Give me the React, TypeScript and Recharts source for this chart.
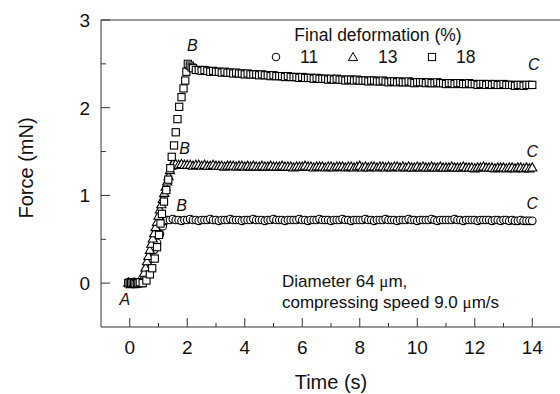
import { ScatterChart, Scatter, XAxis, YAxis, ReferenceLine, ReferenceDot } from 'recharts';

const xTicks = [0, 1, 2, 3, 4, 5, 6, 7, 8, 9, 10, 11, 12, 13, 14];
const yTicks = [0, 0.5, 1, 1.5, 2, 2.5, 3];

// before/while loading: [time (s), force (mN)]
const ramp11 = [
  [-0.05, 0], [0, 0.01], [0.05, 0], [0.1, -0.01], [0.15, 0], [0.2, 0.01], [0.25, 0], [0.3, 0], [0.35, 0.01],
  [0.45, 0.02], [0.55, 0.1], [0.65, 0.19], [0.75, 0.28], [0.85, 0.38], [0.95, 0.46], [1.05, 0.56], [1.15, 0.65], [1.22, 0.71],
];
const ramp13 = [
  [-0.05, 0.01], [0, 0], [0.05, -0.01], [0.1, 0], [0.15, 0.01], [0.2, 0], [0.25, 0], [0.3, 0.01], [0.35, 0],
  [0.4, 0.01], [0.45, 0.05], [0.5, 0.12], [0.55, 0.18], [0.6, 0.25], [0.65, 0.31], [0.7, 0.38], [0.75, 0.45],
  [0.8, 0.51], [0.85, 0.57], [0.9, 0.64], [0.95, 0.7], [1.0, 0.77], [1.05, 0.84], [1.1, 0.9], [1.15, 0.96],
  [1.2, 1.03], [1.25, 1.1], [1.3, 1.16], [1.35, 1.22], [1.4, 1.29], [1.45, 1.34],
];
const ramp18 = [
  [-0.05, 0], [0, 0.01], [0.05, 0], [0.1, 0.01], [0.15, 0], [0.2, -0.01], [0.25, 0], [0.3, 0], [0.35, 0.01],
  [0.45, 0], [0.58, 0.03], [0.7, 0.1], [0.78, 0.17], [0.87, 0.28], [0.95, 0.41], [1.02, 0.55], [1.07, 0.68],
  [1.12, 0.79], [1.19, 0.93], [1.27, 1.06], [1.34, 1.18], [1.41, 1.31], [1.46, 1.44], [1.54, 1.57], [1.6, 1.72],
  [1.66, 1.87], [1.72, 2.01], [1.8, 2.12], [1.87, 2.22], [1.93, 2.31], [1.97, 2.41], [2.02, 2.5], [2.09, 2.48], [2.15, 2.46],
];

// relaxation, one reading every 0.1 s
const start11 = 1.3;
const plateau11 = [
  0.72, 0.72, 0.73, 0.72, 0.72, 0.71, 0.72, 0.72, 0.73, 0.72,
  0.72, 0.71, 0.72, 0.72, 0.72, 0.73, 0.72, 0.72, 0.71, 0.72,
  0.72, 0.72, 0.73, 0.72, 0.72, 0.72, 0.71, 0.72, 0.72, 0.72,
  0.73, 0.72, 0.72, 0.72, 0.71, 0.72, 0.72, 0.73, 0.72, 0.72,
  0.72, 0.71, 0.72, 0.72, 0.72, 0.72, 0.73, 0.72, 0.72, 0.71,
  0.72, 0.72, 0.72, 0.73, 0.72, 0.72, 0.72, 0.71, 0.72, 0.72,
  0.72, 0.73, 0.72, 0.72, 0.71, 0.72, 0.72, 0.72, 0.72, 0.73,
  0.72, 0.72, 0.71, 0.72, 0.72, 0.72, 0.73, 0.72, 0.72, 0.72,
  0.71, 0.72, 0.72, 0.72, 0.73, 0.72, 0.72, 0.71, 0.72, 0.72,
  0.72, 0.72, 0.73, 0.72, 0.71, 0.72, 0.72, 0.72, 0.72, 0.72,
  0.73, 0.72, 0.72, 0.71, 0.72, 0.72, 0.72, 0.72, 0.71, 0.72,
  0.72, 0.72, 0.72, 0.71, 0.72, 0.72, 0.71, 0.72, 0.72, 0.71,
  0.72, 0.71, 0.71, 0.72, 0.71, 0.71, 0.71, 0.71,
];
const start13 = 1.5;
const plateau13 = [
  1.36, 1.36, 1.35, 1.36, 1.35, 1.35, 1.35, 1.34, 1.35, 1.35,
  1.34, 1.35, 1.34, 1.34, 1.35, 1.34, 1.34, 1.34, 1.33, 1.34,
  1.34, 1.34, 1.33, 1.34, 1.34, 1.33, 1.34, 1.33, 1.34, 1.33,
  1.33, 1.34, 1.33, 1.33, 1.34, 1.33, 1.33, 1.33, 1.34, 1.33,
  1.33, 1.33, 1.32, 1.33, 1.33, 1.33, 1.34, 1.33, 1.33, 1.32,
  1.33, 1.33, 1.33, 1.32, 1.33, 1.33, 1.32, 1.33, 1.33, 1.33,
  1.32, 1.33, 1.33, 1.32, 1.33, 1.34, 1.32, 1.33, 1.32, 1.33,
  1.33, 1.32, 1.33, 1.33, 1.32, 1.33, 1.32, 1.33, 1.33, 1.32,
  1.33, 1.32, 1.33, 1.32, 1.32, 1.33, 1.32, 1.33, 1.32, 1.32,
  1.33, 1.32, 1.32, 1.33, 1.32, 1.32, 1.32, 1.33, 1.32, 1.32,
  1.32, 1.33, 1.32, 1.32, 1.32, 1.31, 1.32, 1.32, 1.33, 1.32,
  1.32, 1.32, 1.31, 1.32, 1.32, 1.32, 1.31, 1.32, 1.32, 1.31,
  1.32, 1.32, 1.31, 1.32, 1.31, 1.32,
];
const start18 = 2.2;
const plateau18 = [
  2.45, 2.43, 2.43, 2.42, 2.43, 2.42, 2.41, 2.42, 2.41, 2.41,
  2.40, 2.41, 2.40, 2.40, 2.39, 2.40, 2.39, 2.39, 2.38, 2.39,
  2.38, 2.38, 2.38, 2.37, 2.38, 2.37, 2.37, 2.36, 2.37, 2.36,
  2.36, 2.36, 2.35, 2.36, 2.35, 2.35, 2.35, 2.34, 2.35, 2.34,
  2.34, 2.34, 2.33, 2.34, 2.33, 2.33, 2.33, 2.32, 2.33, 2.32,
  2.33, 2.32, 2.32, 2.31, 2.32, 2.32, 2.31, 2.32, 2.31, 2.31,
  2.31, 2.30, 2.31, 2.31, 2.30, 2.30, 2.31, 2.30, 2.29, 2.30,
  2.30, 2.29, 2.30, 2.29, 2.29, 2.30, 2.29, 2.28, 2.29, 2.29,
  2.29, 2.28, 2.29, 2.28, 2.28, 2.29, 2.28, 2.28, 2.27, 2.28,
  2.28, 2.27, 2.28, 2.28, 2.27, 2.27, 2.28, 2.27, 2.27, 2.26,
  2.27, 2.27, 2.26, 2.27, 2.26, 2.27, 2.26, 2.26, 2.27, 2.26,
  2.26, 2.26, 2.25, 2.26, 2.26, 2.25, 2.26, 2.26, 2.26,
];

const build = (ramp: number[][], start: number, plateau: number[]) => [
  ...ramp.map(([t, f]) => ({ t, f })),
  ...plateau.map((f, i) => ({ t: +(start + i * 0.1).toFixed(2), f })),
];

const data11 = build(ramp11, start11, plateau11);
const data13 = build(ramp13, start13, plateau13);
const data18 = build(ramp18, start18, plateau18);

const FONT = '"Liberation Sans", Arial, sans-serif';
const INK = '#111';
const AXIS = '#333';
const EDGE = '#000';

const CircleMark = (p: any) => <circle cx={p.cx} cy={p.cy} r={3.8} fill="#fff" stroke={EDGE} strokeWidth={1.1} />;
const TriMark = (p: any) => (
  <polygon
    points={`${p.cx},${p.cy - 4.5} ${p.cx - 4.6},${p.cy + 3.6} ${p.cx + 4.6},${p.cy + 3.6}`}
    fill="#fff"
    stroke={EDGE}
    strokeWidth={1.1}
  />
);
const SquareMark = (p: any) => (
  <rect x={p.cx - 3.6} y={p.cy - 3.6} width={7.2} height={7.2} fill="#fff" stroke={EDGE} strokeWidth={1.1} />
);

const XTick = ({ x, y, payload }: any) => {
  const major = payload.value % 2 === 0;
  return (
    <g>
      <line x1={x} x2={x} y1={y} y2={y - (major ? 9 : 4)} stroke={AXIS} />
      {major && (
        <text x={x} y={y + 27} textAnchor="middle" fontSize={19} fontFamily={FONT} fill={INK}>
          {payload.value}
        </text>
      )}
    </g>
  );
};

const YTick = ({ x, y, payload }: any) => {
  const major = Number.isInteger(payload.value);
  return (
    <g>
      <line x1={x} x2={x + (major ? 9 : 5)} y1={y} y2={y} stroke={AXIS} />
      {major && (
        <text x={x - 11} y={y + 7} textAnchor="end" fontSize={19} fontFamily={FONT} fill={INK}>
          {payload.value}
        </text>
      )}
    </g>
  );
};

const letter = (value: string) => ({
  value,
  position: 'center' as const,
  fontSize: 16,
  fontStyle: 'italic',
  fontFamily: FONT,
  fill: INK,
});

export default function App() {
  return (
    <div style={{ position: 'absolute', left: 0, top: 0, width: 560, height: 394, overflow: 'hidden', background: '#fff' }}>
      <ScatterChart width={561} height={394} margin={{ top: 20, right: 0, bottom: 0, left: 0 }}>
        <XAxis
          type="number"
          dataKey="t"
          domain={[-1, 15]}
          ticks={xTicks}
          interval={0}
          height={67}
          tickSize={0}
          tickMargin={0}
          tickLine={false}
          axisLine={{ stroke: AXIS }}
          tick={<XTick />}
        />
        <YAxis
          type="number"
          dataKey="f"
          domain={[-0.5, 3]}
          ticks={yTicks}
          interval={0}
          width={101}
          tickSize={0}
          tickMargin={0}
          tickLine={false}
          axisLine={{ stroke: AXIS }}
          tick={<YTick />}
        />
        <ReferenceLine y={3} stroke={AXIS} />
        <Scatter data={data11} shape={CircleMark} isAnimationActive={false} />
        <Scatter data={data13} shape={TriMark} isAnimationActive={false} />
        <Scatter data={data18} shape={SquareMark} isAnimationActive={false} />
        <ReferenceDot x={-0.17} y={-0.19} r={0} stroke="none" label={letter('A')} />
        <ReferenceDot x={1.8} y={0.89} r={0} stroke="none" label={letter('B')} />
        <ReferenceDot x={1.91} y={1.54} r={0} stroke="none" label={letter('B')} />
        <ReferenceDot x={2.18} y={2.71} r={0} stroke="none" label={letter('B')} />
        <ReferenceDot x={14} y={0.91} r={0} stroke="none" label={letter('C')} />
        <ReferenceDot x={14} y={1.5} r={0} stroke="none" label={letter('C')} />
        <ReferenceDot x={14.05} y={2.5} r={0} stroke="none" label={letter('C')} />
      </ScatterChart>
      <svg width={560} height={394} style={{ position: 'absolute', left: 0, top: 0, pointerEvents: 'none' }}>
        <g fontFamily={FONT} fill={INK}>
          <text x={378} y={41} textAnchor="middle" fontSize={17.5}>Final deformation (%)</text>
          <circle cx={276} cy={57} r={3.8} fill="#fff" stroke={EDGE} />
          <text x={300} y={63} fontSize={17.5}>11</text>
          <polygon points="353,52.5 348.4,60.6 357.6,60.6" fill="#fff" stroke={EDGE} />
          <text x={378} y={63} fontSize={17.5}>13</text>
          <rect x={428.4} y={53.4} width={7.2} height={7.2} fill="#fff" stroke={EDGE} />
          <text x={456} y={63} fontSize={17.5}>18</text>
          <text x={282} y={287} fontSize={17}>
            Diameter 64 <tspan fontFamily='"Liberation Serif", serif'>μ</tspan>m,
          </text>
          <text x={282} y={308} fontSize={17}>
            compressing speed 9.0 <tspan fontFamily='"Liberation Serif", serif'>μ</tspan>m/s
          </text>
          <text x={331} y={389} textAnchor="middle" fontSize={20}>Time (s)</text>
          <text x={33} y={168} textAnchor="middle" fontSize={20} transform="rotate(-90 33 168)">Force (mN)</text>
        </g>
      </svg>
    </div>
  );
}
